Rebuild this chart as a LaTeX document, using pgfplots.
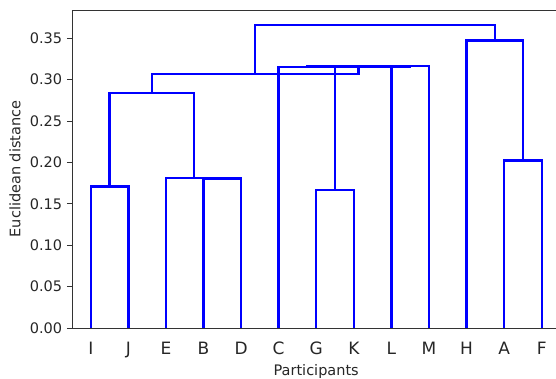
\documentclass[border=0pt]{standalone}
\usepackage{pgfplots}
\pgfplotsset{compat=1.18}
\usepackage{fontspec}
\setmainfont{DejaVu Sans}
\definecolor{spine}{gray}{0.2}
\definecolor{txt}{gray}{0.15}
\begin{document}
\begin{tikzpicture}
\useasboundingbox (-72pt,-50pt) rectangle (484pt,328pt);
\begin{axis}[
  at={(0,0)}, anchor=south west,
  width=484pt, height=318pt, scale only axis,
  xmin=0, xmax=128.8, ymin=0, ymax=0.384,
  axis lines=left,
  axis on top,
  axis line style={-, draw=spine, line width=0.9pt},
  tick align=outside,
  major tick length=5pt,
  tick style={draw=spine, line width=0.9pt},
  xtick={5,15,25,35,45,55,65,75,85,95,105,115,125},
  xticklabels={I,J,E,B,D,C,G,K,L,M,H,A,F},
  xtick style={draw=none},
  ytick={0,0.05,0.1,0.15,0.2,0.25,0.3,0.35},
  /pgf/number format/assume math mode=true,
  yticklabel={\pgfmathprintnumber[fixed,fixed zerofill,precision=2]{\tick}},
  yticklabel style={font=\fontsize{14.5}{17}\selectfont, text=txt, anchor=east, inner sep=0pt, xshift=-4.7pt},
  xticklabel style={font=\fontsize{17}{20}\selectfont, text=txt, anchor=base, inner sep=0pt, yshift=-21pt},
  every axis x label/.style={at={(axis description cs:0.5045,-0.149)}, anchor=base, inner sep=0pt, font=\fontsize{14.5}{17}\selectfont, text=txt},
  every axis y label/.style={at={(axis description cs:-0.1178,0.5)}, rotate=90, anchor=center, font=\fontsize{14.5}{17}\selectfont, text=txt},
  xlabel={Participants},
  ylabel={Euclidean distance},
  dlink/.style={draw=blue, line width=2.4pt, line join=miter, no markers},
]
% I-J
\addplot[dlink] coordinates {(5,0) (5,0.1709) (15,0.1709) (15,0)};
% B-D
\addplot[dlink] coordinates {(35,0) (35,0.1805) (45,0.1805) (45,0)};
% E-(B,D)
\addplot[dlink] coordinates {(25,0) (25,0.1812) (40,0.1812) (40,0.1805)};
% (I,J)-(E,B,D)
\addplot[dlink] coordinates {(10,0.1709) (10,0.2836) (32.5,0.2836) (32.5,0.1812)};
% G-K
\addplot[dlink] coordinates {(65,0) (65,0.1669) (75,0.1669) (75,0)};
% C-(G,K)
\addplot[dlink] coordinates {(55,0) (55,0.3150) (70,0.3150) (70,0.1669)};
% L-M
\addplot[dlink] coordinates {(85,0) (85,0.3165) (95,0.3165) (95,0)};
% (C,G,K)-(L,M)
\addplot[dlink] coordinates {(62.5,0.3150) (62.5,0.3156) (90,0.3156) (90,0.3165)};
% left-(C,G,K,L,M)
\addplot[dlink] coordinates {(21.25,0.2836) (21.25,0.3069) (76.25,0.3069) (76.25,0.3156)};
% A-F
\addplot[dlink] coordinates {(115,0) (115,0.2023) (125,0.2023) (125,0)};
% H-(A,F)
\addplot[dlink] coordinates {(105,0) (105,0.3470) (120,0.3470) (120,0.2023)};
% top
\addplot[dlink] coordinates {(48.75,0.3069) (48.75,0.3660) (112.5,0.3660) (112.5,0.3470)};
% top spine
\draw[draw=spine, line width=0.9pt] (rel axis cs:0,1) -- (rel axis cs:1,1);
\end{axis}
\end{tikzpicture}
\end{document}
